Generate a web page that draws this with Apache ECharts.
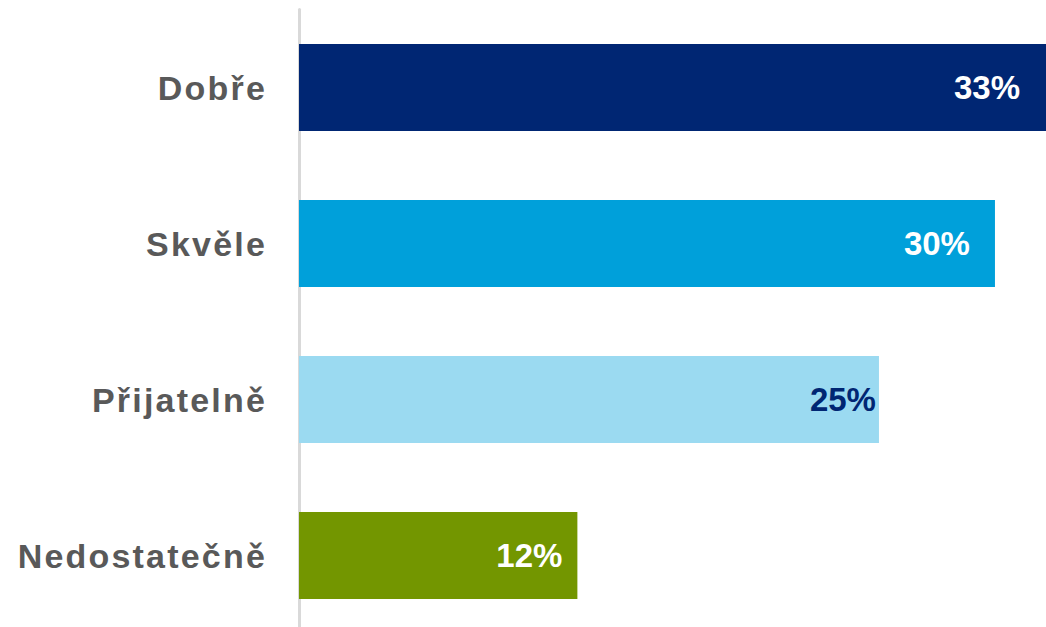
<!DOCTYPE html>
<html>
<head>
<meta charset="utf-8">
<script src="https://cdn.jsdelivr.net/npm/echarts@6/dist/echarts.min.js"></script>
<style>
html,body{margin:0;padding:0;background:#fff}
#c{width:1046px;height:627px}
#c text[fill="#595959"], #c text[fill="rgb(89,89,89)"] { letter-spacing: 2.2px; }
</style>
</head>
<body>
<div id="c"></div>
<script>
const categories = ['Dobře', 'Skvěle', 'Přijatelně', 'Nedostatečně'];
const values = [33, 30, 25, 12];
const labels = ['33%', '30%', '25%', '12%'];
const barColors = ['#002673', '#00A0DA', '#9BDAF1', '#739600'];
const labelColors = ['#ffffff', '#ffffff', '#002673', '#ffffff'];
const labelDistances = [26, 25, 3, 15];

const chart = echarts.init(document.getElementById('c'), null, { renderer: 'svg' });
chart.setOption({
  animation: false,
  grid: { left: 299, right: 0, top: 9.5, height: 624, outerBoundsMode: 'none', containLabel: false },
  xAxis: {
    type: 'value', min: 0, max: 32.2,
    show: false
  },
  yAxis: {
    type: 'category',
    inverse: true,
    data: categories,
    axisLine: { show: true, lineStyle: { color: '#D9D9D9', width: 3 } },
    axisTick: { show: false },
    axisLabel: {
      margin: 32,
      color: '#595959',
      fontSize: 34,
      fontWeight: 'bold',
      fontFamily: 'Liberation Sans, Arial, sans-serif'
    }
  },
  series: [{
    type: 'bar',
    barWidth: 87,
    clip: true,
    data: values.map((v, i) => ({
      value: v,
      itemStyle: { color: barColors[i] },
      label: {
        show: true,
        position: 'insideRight',
        distance: labelDistances[i],
        formatter: labels[i],
        color: labelColors[i],
        fontSize: 33,
        fontWeight: 'bold',
        fontFamily: 'Liberation Sans, Arial, sans-serif'
      }
    }))
  }]
});
</script>
</body>
</html>
